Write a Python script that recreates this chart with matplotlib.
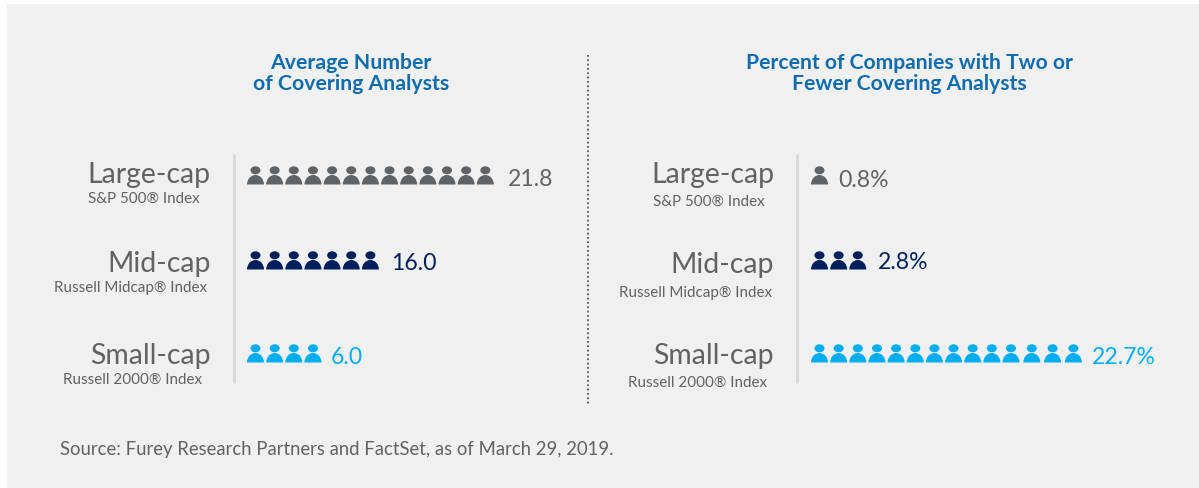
import matplotlib
matplotlib.use("Agg")
import matplotlib.pyplot as plt
from matplotlib.patches import Ellipse, Wedge, Rectangle
from matplotlib.transforms import Affine2D

W, H = 1199, 489

caps = ["Large-cap", "Mid-cap", "Small-cap"]
left_index = ["S&P 500® Index", "Russell Midcap® Index", "Russell 2000® Index"]
left_icons = [13, 7, 4]
left_values = ["21.8", "16.0", "6.0"]
right_icons = [1, 3, 14]
right_values = ["0.8%", "2.8%", "22.7%"]
colors = ["#616264", "#00205b", "#00aeef"]
titles = ["Average Number\nof Covering Analysts",
          "Percent of Companies with Two or\nFewer Covering Analysts"]
source = "Source: Furey Research Partners and FactSet, as of March 29, 2019."

plt.rcParams["font.family"] = ["Lato", "DejaVu Sans"]

fig = plt.figure(figsize=(W / 100, H / 100), dpi=100, facecolor="white")
ax = fig.add_axes([0, 0, 1, 1])
ax.set_xlim(0, W)
ax.set_ylim(H, 0)
ax.axis("off")

ax.add_patch(Rectangle((7, 5), W - 7, H - 5, fc="#f0f0f0", ec="none"))


def person(x, base, color):
    # x is the left edge of the icon, base the bottom of the body
    ax.add_patch(Ellipse((x + 8.5, base - 14.2), 10, 8, fc=color, ec="none"))
    body = Wedge((0, 0), 1, 0, 180, fc=color, ec="none")
    body.set_transform(Affine2D().scale(8.5, -9.5).translate(x + 8.5, base) + ax.transData)
    ax.add_patch(body)


def panel(bar_x, label_x, icon_x, cap_y, index_y, base_y, index_x, icons, values, value_y, gaps):
    ax.plot([bar_x, bar_x], [155, 384], color="#d9d9d9", lw=2.2, solid_capstyle="butt")
    for i in range(3):
        ax.text(label_x, cap_y[i], caps[i], ha="right", va="center", fontsize=20.4,
                color="#616264")
        ax.text(index_x[i], index_y[i], left_index[i], ha="right", va="center", fontsize=10.9,
                color="#616264")
        x = icon_x
        for n in range(icons[i]):
            person(x, base_y[i], colors[i])
            # the last icons of the long row sit a bit wider apart
            x += 20.8 if n >= 10 and icons[i] == 14 else 19.15
        ax.text(x + gaps[i], value_y[i], values[i], ha="left", va="center", fontsize=16.6,
                color=colors[i])


panel(233.5, 211, 247, [175, 264, 356], [199, 288, 380], [185.5, 270.5, 363.5],
      [200, 207, 202], left_icons, left_values, [179.5, 263.5, 357], [11.5, 10.5, 7])
panel(796.5, 774, 811, [175, 265, 356], [202, 293, 383], [185.5, 270.5, 363.5],
      [765, 772, 767], right_icons, right_values, [180.5, 262.5, 358], [8.5, 9, 6])

ax.plot([588, 588], [56, 405], color="#555555", lw=1.3, ls=(0, (1, 1.4)))

ax.text(351, 73.5, titles[0], ha="center", va="center", fontsize=15.3, color="#0f6cad",
        fontweight="bold", linespacing=1.05)
ax.text(909, 73.5, titles[1], ha="center", va="center", fontsize=15.2, color="#0f6cad",
        fontweight="bold", linespacing=1.05)
ax.text(60, 449.5, source, ha="left", va="center", fontsize=13.35, color="#616264")

fig.savefig("out.png", dpi=100, facecolor="white")
